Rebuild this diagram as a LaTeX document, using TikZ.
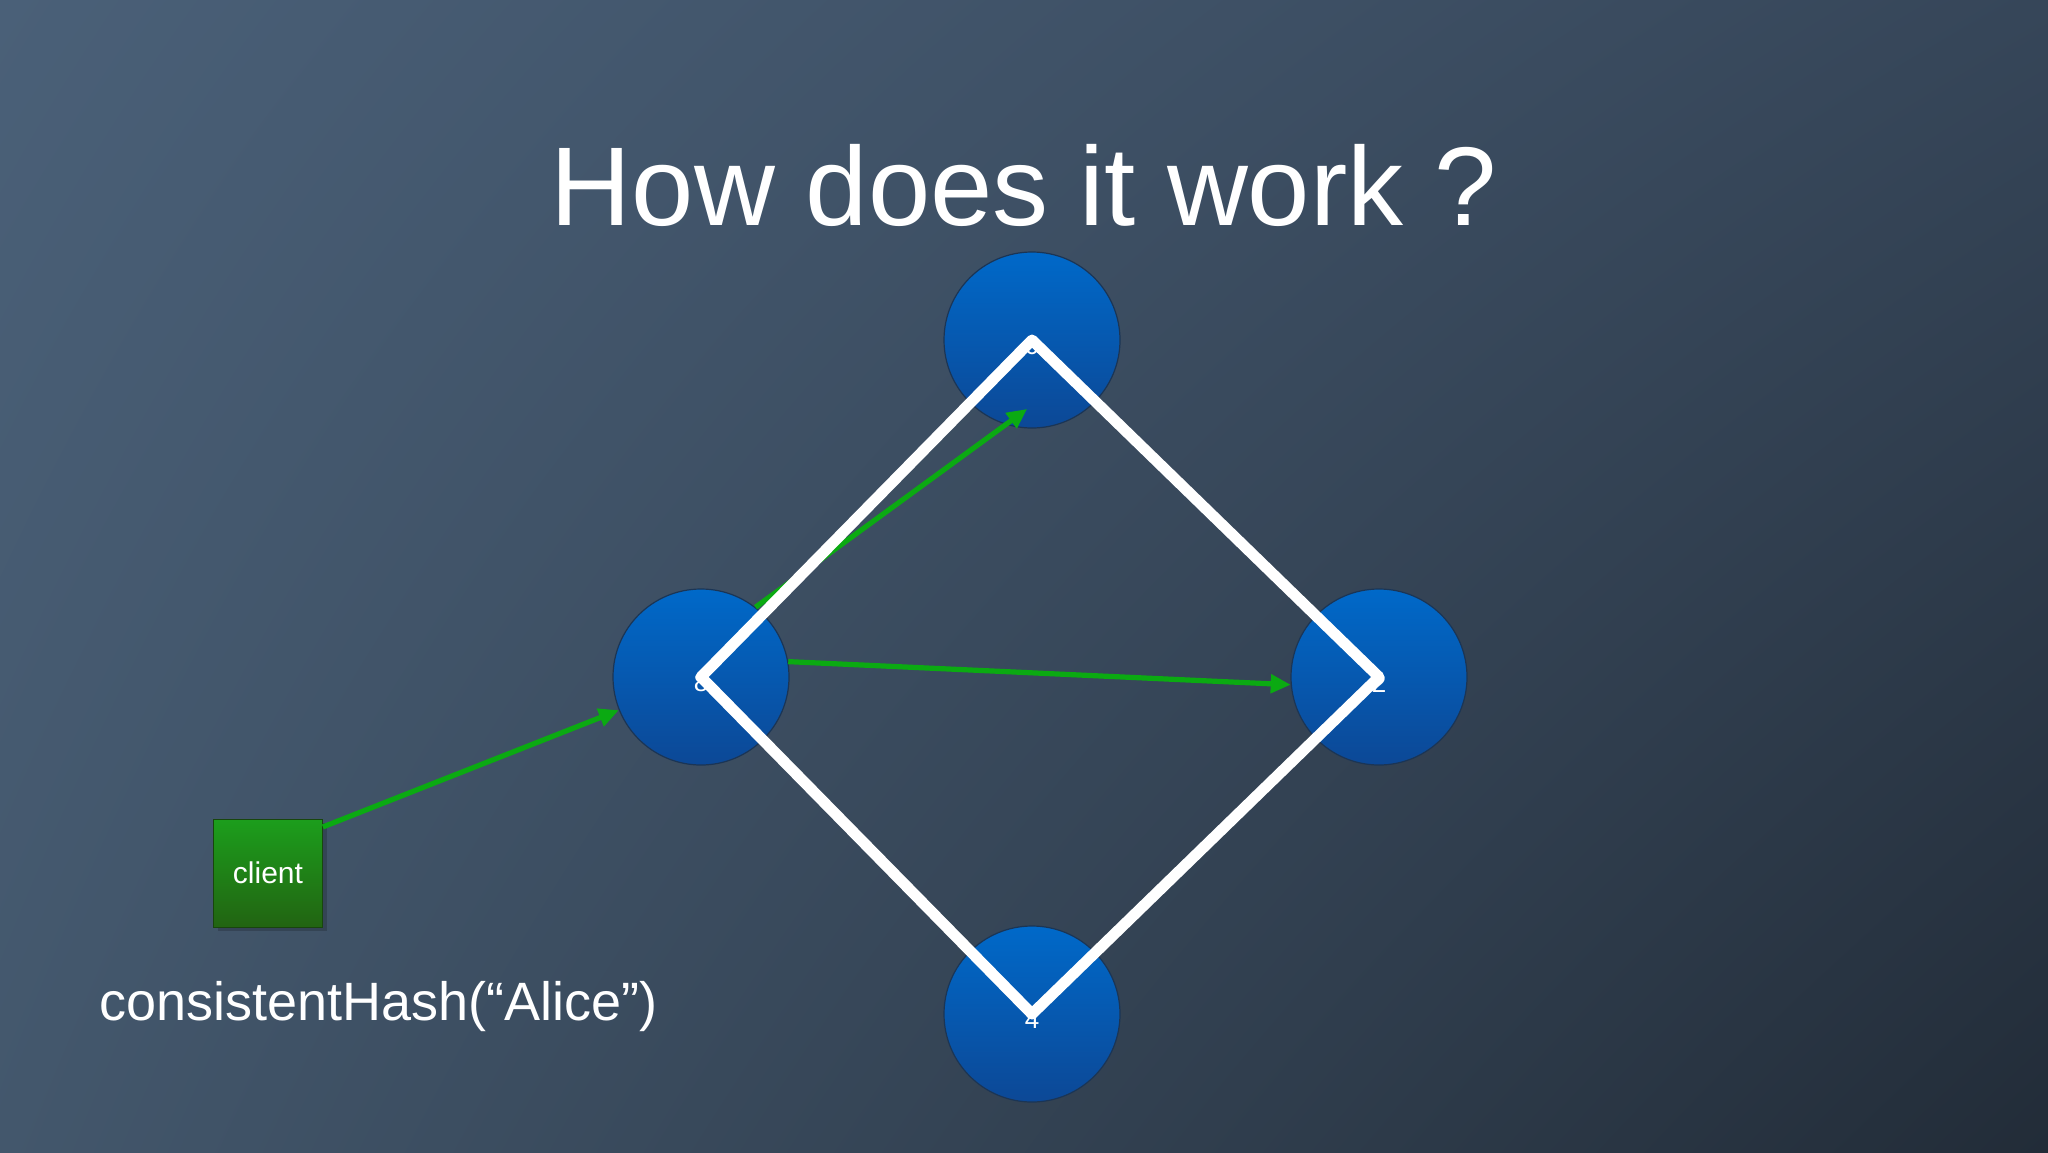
\documentclass[tikz,border=0pt]{standalone}
\usepackage{fontspec}
\setmainfont{Liberation Sans}
\usetikzlibrary{calc,arrows.meta,shadings}
\definecolor{bgUL}{HTML}{4A6078}
\definecolor{bgUR}{HTML}{364659}
\definecolor{bgLL}{HTML}{43576C}
\definecolor{bgLR}{HTML}{222C38}
\definecolor{nodeTop}{HTML}{0069C9}
\definecolor{nodeBot}{HTML}{0C4896}
\definecolor{nodeRim}{HTML}{1B3555}
\definecolor{cliTop}{HTML}{1C9E1C}
\definecolor{cliBot}{HTML}{226412}
\definecolor{arrowGreen}{HTML}{0BAA12}
\tikzset{
  x=0.5pt, y=-0.5pt,
  hashnode/.style={circle, minimum size=88pt, inner sep=0pt, top color=nodeTop, bottom color=nodeBot, draw=nodeRim, line width=0.6pt},
  numlabel/.style={text=white, inner sep=0pt, font=\fontsize{13}{13}\selectfont},
  clientbox/.style={rectangle, minimum width=54.5pt, minimum height=54pt, inner sep=0pt, top color=cliTop, bottom color=cliBot, draw=cliBot!70!black, line width=0.4pt, text=white, font=\fontsize{15}{15}\selectfont},
  greenarrow/.style={draw=arrowGreen, line width=2.6pt, -{Triangle[length=10pt,width=9pt]}},
  ringline/.style={draw=white, line width=5.5pt, line join=round},
  titletext/.style={text=white, font=\fontsize{56}{56}\selectfont, inner sep=0pt},
  bodytext/.style={text=white, font=\fontsize{27}{27}\selectfont, inner sep=0pt}
}
\begin{document}
\begin{tikzpicture}
\shade[upper left=bgUL, upper right=bgUR, lower left=bgLL, lower right=bgLR] (0,0) rectangle (2048,1152);
\useasboundingbox (0,0) rectangle (2048,1152);

\node[titletext, anchor=base] (title) at (1024,225) {How does it work ?};

\node[hashnode] (T) at (1032,340) {};
\node[hashnode] (L) at (701,677) {};
\node[hashnode] (R) at (1379,677) {};
\node[hashnode] (B) at (1032,1014) {};

\fill[black, opacity=0.18] (218,823) rectangle (327,931);
\node[clientbox] (client) at (268,873) {client};
\node[bodytext, anchor=base west] (hash) at (99,1020) {consistentHash(“Alice”)};

\coordinate (tEnd) at ($(T.center)!0.78!(T.266)$);
\draw[greenarrow] (client.40) -- (L.202);
\draw[greenarrow] (L.52) -- (tEnd);
\draw[greenarrow] (L.10) -- (R.185);

\draw[ringline] (T.center) -- (R.center) -- (B.center) -- (L.center) -- cycle;

\node[numlabel] (tLab) at ([yshift=-3pt]T.center) {0};
\node[numlabel] (lLab) at ([yshift=-3pt]L.center) {8};
\node[numlabel] (rLab) at ([yshift=-3pt]R.center) {2};
\node[numlabel] (bLab) at ([yshift=-3pt]B.center) {4};
\end{tikzpicture}
\end{document}
